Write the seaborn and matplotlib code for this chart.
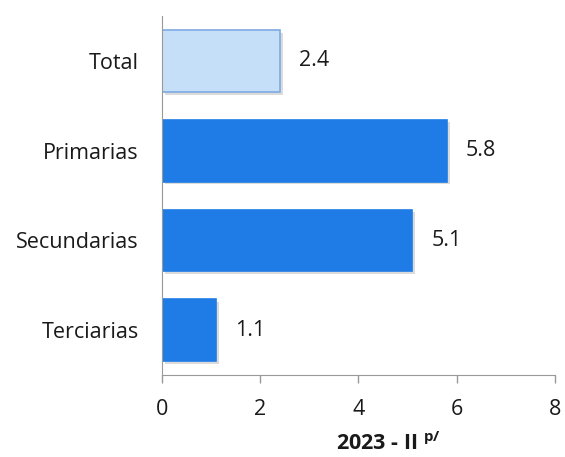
import pandas as pd
import seaborn as sns
import matplotlib.pyplot as plt
import matplotlib.patheffects as pe

# Data
categorias = ['Total', 'Primarias', 'Secundarias', 'Terciarias']
valores = [2.4, 5.8, 5.1, 1.1]
colores = ['#c6dff9', '#1f7be6', '#1f7be6', '#1f7be6']
bordes = ['#7ea9e2', '#1f7be6', '#1f7be6', '#1f7be6']

df = pd.DataFrame({'cat': categorias, 'val': valores})

sns.set_style('white')
plt.rcParams['font.family'] = ['Open Sans', 'DejaVu Sans']

fig = plt.figure(figsize=(5.65, 4.57), dpi=100)
ax = fig.add_axes([0.287, 0.179, 0.695, 0.786])

sns.barplot(data=df, x='val', y='cat', hue='cat', palette=colores,
            legend=False, width=0.69, ax=ax, saturation=1)

for p, ec in zip(ax.patches, bordes):
    p.set_edgecolor(ec)
    p.set_linewidth(1.2)
    p.set_path_effects([pe.SimplePatchShadow(offset=(2, -2), shadow_rgbFace='#999999', alpha=0.35),
                        pe.Normal()])

for i, v in enumerate(valores):
    ax.text(v + 0.38, i, f'{v:.1f}', va='center', ha='left', fontsize=15.5, color='#1a1a1a')

ax.set_xlim(0, 8)
ax.set_ylim(3.5, -0.5)
ax.set_xticks([0, 2, 4, 6, 8])
ax.tick_params(axis='x', bottom=True, labelsize=15.5, length=6, width=1, color='#999999',
               direction='out', pad=11)
ax.tick_params(axis='y', left=False, labelsize=15.5, length=0, pad=17)
for lab in ax.get_yticklabels() + ax.get_xticklabels():
    lab.set_color('#1a1a1a')

ax.set_ylabel('')
ax.set_xlabel('2023 - II $^{\\mathregular{p/}}$', fontsize=15.5, fontweight='bold', color='#1a1a1a')
ax.xaxis.label.set_va('center')
ax.xaxis.set_label_coords(0.575, -0.19)

sns.despine(ax=ax, top=True, right=True)
ax.spines['left'].set_color('#999999')
ax.spines['bottom'].set_color('#999999')

fig.savefig('out.png', dpi=100)
